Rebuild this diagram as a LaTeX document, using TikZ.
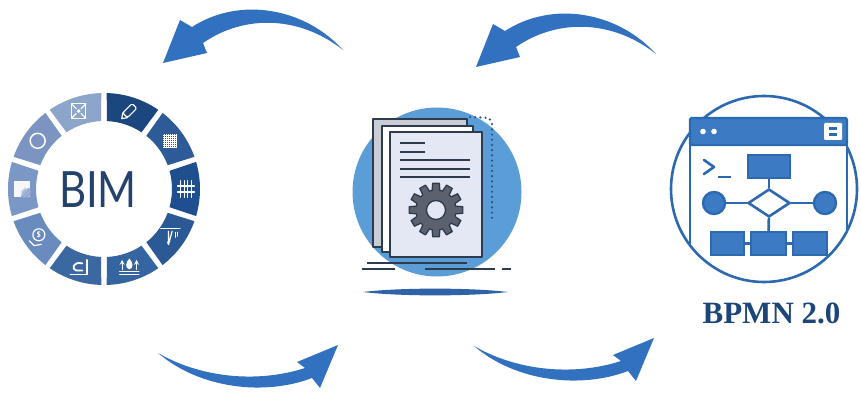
\documentclass[tikz,border=0pt]{standalone}
\usepackage{fontspec}
\usetikzlibrary{shapes.geometric}
\newfontfamily\bimfont{Lato}
\newfontfamily\bpmnfont{Liberation Serif}
\definecolor{arrowblue}{HTML}{3271C0}
\definecolor{seg0}{HTML}{1F4F8E}
\definecolor{seg1}{HTML}{2D5B97}
\definecolor{seg2}{HTML}{1B467E}
\definecolor{seg3}{HTML}{8DA4CB}
\definecolor{seg4}{HTML}{7B94C2}
\definecolor{seg5}{HTML}{7B97C5}
\definecolor{seg6}{HTML}{6A8BBE}
\definecolor{seg7}{HTML}{3C68A2}
\definecolor{seg8}{HTML}{3565A0}
\definecolor{seg9}{HTML}{2A5996}
\definecolor{bimtext}{HTML}{24426E}
\definecolor{discblue}{HTML}{5B9DD6}
\definecolor{inkline}{HTML}{2E3A4E}
\definecolor{pageback}{HTML}{C9CDD6}
\definecolor{pagefront}{HTML}{E4E8F4}
\definecolor{gearfill}{HTML}{5C616E}
\definecolor{dotblue}{HTML}{2A4F86}
\definecolor{shadowblue}{HTML}{2F62A6}
\definecolor{bpmnline}{HTML}{2D69AE}
\definecolor{bpmnfill}{HTML}{3C7BC4}
\definecolor{bpmntext}{HTML}{1D4678}
\tikzset{
  bigarrow/.style={fill=arrowblue},
  icon/.style={draw=white, line width=1.2, line cap=round, line join=round},
  page/.style={draw=inkline, line width=2, line join=round},
  inkrule/.style={draw=inkline, line width=2.2},
  flow/.style={draw=bpmnline, line width=2.6, line join=round},
  flowbox/.style={fill=bpmnfill, draw=bpmnline, line width=2.4}
}
\begin{document}
\begin{tikzpicture}[x=1pt,y=1pt]
\useasboundingbox (0,0) rectangle (861,394);
\fill[white] (0,0) rectangle (861,394);

% ---------- curved arrows ----------
\path[bigarrow] (343,344) .. controls (305,386) and (240,398) .. (192,367)
  -- (180,374) -- (163,331) -- (207,341) -- (203,351)
  .. controls (245,380) and (300,378) .. (343,344) -- cycle;
\begin{scope}[shift={(313,-4)}]
\path[bigarrow] (343,344) .. controls (305,386) and (240,398) .. (192,367)
  -- (180,374) -- (163,331) -- (207,341) -- (203,351)
  .. controls (245,380) and (300,378) .. (343,344) -- cycle;
\end{scope}
\path[bigarrow] (158,41) .. controls (200,5) and (265,-2) .. (312,16)
  -- (320,6) -- (338,49) -- (297,32) -- (305,26)
  .. controls (262,12) and (205,14) .. (158,41) -- cycle;
\begin{scope}[shift={(316,7)}]
\path[bigarrow] (158,41) .. controls (200,5) and (265,-2) .. (312,16)
  -- (320,6) -- (338,49) -- (297,32) -- (305,26)
  .. controls (262,12) and (205,14) .. (158,41) -- cycle;
\end{scope}

% ---------- BIM ring ----------
\begin{scope}[shift={(104,205)}]
\foreach \a/\c in {0/seg0,36/seg1,72/seg2,108/seg3,144/seg4,180/seg5,216/seg6,252/seg7,288/seg8,324/seg9}{
  \fill[\c] (\a-16.4:96) arc[start angle=\a-16.4, end angle=\a+16.4, radius=96]
    -- (\a+15.5:68) arc[start angle=\a+15.5, end angle=\a-15.5, radius=68] -- cycle;
}
% fence
\begin{scope}[shift={(0:82)}, scale=1.2]
  \foreach \u in {-4.5,-1.5,1.5,4.5} \draw[icon] (\u,-7) -- (\u,7);
  \foreach \v in {-2.5,2.5} \draw[icon] (-7,\v) -- (7,\v);
\end{scope}
% mesh
\begin{scope}[shift={(36:82)}]
  \draw[white, line width=0.5, step=2pt] (-7,-7) grid (7,7);
\end{scope}
% pencil
\begin{scope}[shift={(72:82)}, rotate=45, scale=1.2]
  \draw[icon, rounded corners=1.5] (-5,-2.8) rectangle (6,2.8);
  \draw[icon] (-5,-2.8) -- (-9,0) -- (-5,2.8);
\end{scope}
% expanding frame
\begin{scope}[shift={(108:82)}, scale=1.2]
  \draw[icon] (-6,-6) rectangle (6,6);
  \draw[icon] (-6,-6) -- (-2,-2) (6,-6) -- (2,-2) (-6,6) -- (-2,2) (6,6) -- (2,2);
  \fill[white] (0,0) circle (1.6);
\end{scope}
% ring
\begin{scope}[shift={(144:82)}]
  \draw[icon, line width=1.5] (0,0) circle (7.5);
\end{scope}
% sheet
\begin{scope}[shift={(180:82)}, scale=1.2]
  \fill[white!92!seg5] (-7,-7) rectangle (7,7);
  \fill[seg5!70!white] (7,-7) -- (7,1) arc[start angle=90, end angle=180, radius=8] -- cycle;
  \draw[seg5, line width=0.4] (0,-7) -- (7,0) (3,-7) -- (7,-3) (-1,-3) -- (3,1);
\end{scope}
% money
\begin{scope}[shift={(216:82)}, scale=1.2]
  \draw[icon] (1,2) circle (5);
  \node[text=white, font=\sffamily\bfseries\fontsize{8}{8}\selectfont] at (1,2) {\$};
  \draw[icon] (-7,-3) -- (-3,-7) -- (3,-6);
\end{scope}
% corner block
\begin{scope}[shift={(252:82)}, scale=1.2]
  \draw[icon] (-7,-6) -- (7,-6) -- (7,6);
  \draw[icon, line width=1.8] (3,3) .. controls (-5,5) and (-6,-2) .. (-2,-3) -- (3,-3);
\end{scope}
% heat rising
\begin{scope}[shift={(288:82)}, scale=1.2]
  \draw[icon] (-8,-6) -- (8,-6);
  \draw[icon] (-8,-3.5) -- (8,-3.5);
  \foreach \u in {-6,6} \draw[icon, -stealth] (\u,-2) -- (\u,6);
  \fill[white] (0,-2) .. controls (-4,-1) and (-3,4) .. (0,7) .. controls (3,4) and (4,-1) .. (0,-2) -- cycle;
\end{scope}
% thermometer
\begin{scope}[shift={(324:82)}, scale=1.2]
  \draw[icon] (-8,7) -- (8,7);
  \draw[icon] (-1.5,5) -- (-1.5,-3) arc[start angle=135, end angle=-135+360, radius=2.2] -- (1.5,5);
  \draw[icon] (4,4) -- (4,0) (6,4) -- (6,1);
\end{scope}
\end{scope}
\node[font=\bimfont\fontsize{50}{50}\selectfont, text=bimtext, xscale=0.84] (bim) at (98,204) {BIM};

% ---------- documents with gear ----------
\fill[discblue] (437,202) circle (84.5);
\draw[dotblue, line width=2.4, line cap=round, dash pattern=on 0pt off 5.2pt]
  (470,277) -- (489,276) -- (492,271) -- (492,176);
\filldraw[page, fill=pageback] (373,147) rectangle (467,275);
\filldraw[page, fill=white] (382,142) rectangle (473,268);
\filldraw[page, fill=pagefront] (390,137) rectangle (482,262);
\foreach \v in {251,242} \draw[inkrule] (400,\v) -- (425,\v);
\foreach \v in {234,225,217} \draw[inkrule] (400,\v) -- (470,\v);
\begin{scope}[shift={(436,184)}]
  \filldraw[fill=gearfill, draw=inkline, line width=1.3, line join=round]
    (-7:27) \foreach \i in {0,...,11}{ -- (\i*30-7:27) -- (\i*30+7:27) -- (\i*30+11:20) -- (\i*30+19:20) } -- cycle;
  \filldraw[fill=pagefront, draw=inkline, line width=1.3] (0,0) circle (9.5);
\end{scope}
\draw[inkrule] (367,131) -- (467,131);
\draw[inkrule] (362,125) -- (395,125);
\draw[inkrule] (425,125) -- (495,125);
\draw[inkrule] (502,125) -- (511,125);
\fill[shadowblue] (363,102) .. controls (400,106.5) and (470,106.5) .. (508,102)
  .. controls (470,97.5) and (400,97.5) .. (363,102) -- cycle;

% ---------- BPMN window ----------
\draw[bpmnline, line width=2.6] (764,205) circle (93);
\draw[flow, fill=white] (690,149) -- (690,262) -- (847,262) -- (847,163);
\filldraw[flowbox, rounded corners=1.5] (690,249) rectangle (847,276);
\fill[white] (703,262.5) circle (2.8) (714,262.5) circle (2.8);
\fill[white, rounded corners=1] (824,254) rectangle (842,271);
\draw[bpmnline, line width=2.4] (829,265.5) -- (837,265.5) (829,259.5) -- (837,259.5);
\draw[flow, line cap=round] (704,234) -- (714,227) -- (704,220);
\draw[flow] (718,217) -- (731,217);
\node[flowbox, minimum width=42, minimum height=23, inner sep=0pt] (top) at (769,227.5) {};
\node[draw=bpmnline, fill=white, line width=2.6, diamond, aspect=1.5, minimum width=42, minimum height=28, inner sep=0pt] (gate) at (769,191) {};
\node[flowbox, circle, minimum size=22, inner sep=0pt] (start) at (714,191) {};
\node[flowbox, circle, minimum size=22, inner sep=0pt] (stop) at (825,191) {};
\node[flowbox, minimum width=33, minimum height=23, inner sep=0pt] (b1) at (727.5,150.5) {};
\node[flowbox, minimum width=35, minimum height=23, inner sep=0pt] (b2) at (768.5,150.5) {};
\node[flowbox, minimum width=34, minimum height=23, inner sep=0pt] (b3) at (810,150.5) {};
\draw[flow] (top) -- (gate);
\draw[flow] (gate) -- (b2);
\draw[flow] (start) -- (gate);
\draw[flow] (gate) -- (stop);
\draw[flow] (b1) -- (b2);
\draw[flow] (b2) -- (b3);
\node[font=\bpmnfont\bfseries\fontsize{31}{31}\selectfont, text=bpmntext, anchor=base] (label) at (771.5,71) {BPMN 2.0};
\end{tikzpicture}
\end{document}
